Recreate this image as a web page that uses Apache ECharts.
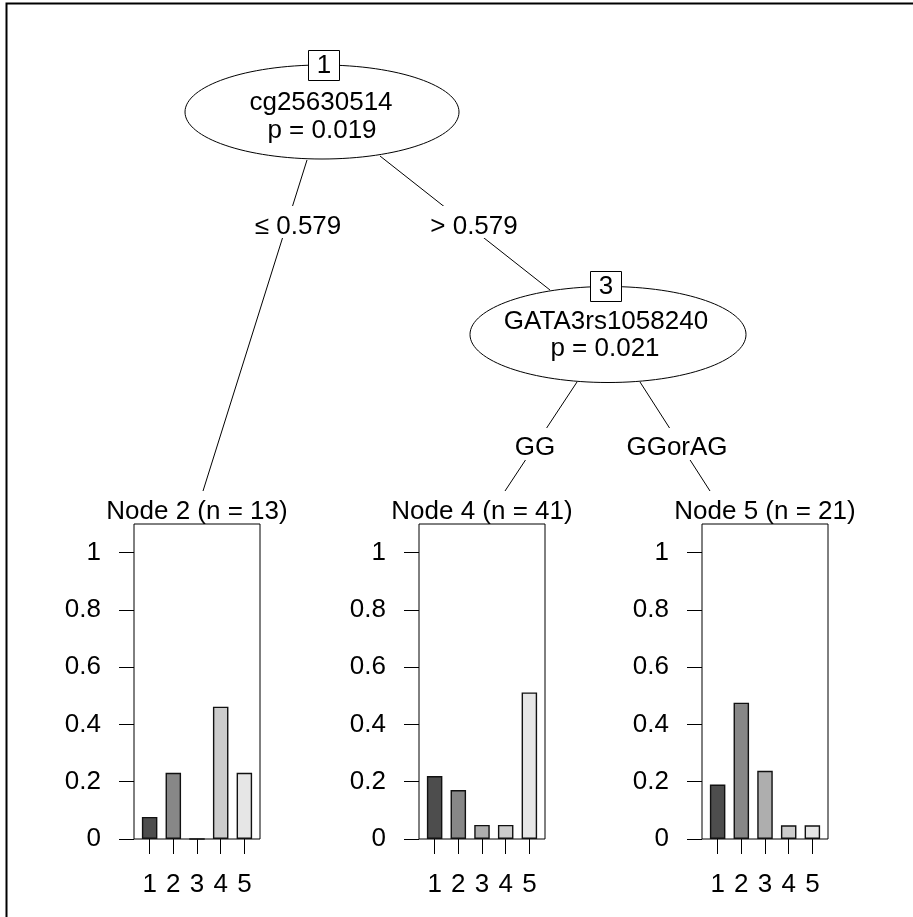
<!DOCTYPE html>
<html>
<head>
<meta charset="utf-8">
<script src="https://cdn.jsdelivr.net/npm/echarts@6/dist/echarts.min.js"></script>
<style>
html,body{margin:0;padding:0;background:#fff;}
#chart{width:913px;height:917px;}
</style>
</head>
<body>
<div id="chart"></div>
<script>
// ---- data ----
var classes = [1, 2, 3, 4, 5];
var yTicks = [0, 0.2, 0.4, 0.6, 0.8, 1];
var node2 = [0.077, 0.231, 0, 0.462, 0.231];
var node4 = [0.220, 0.171, 0.049, 0.049, 0.512];
var node5 = [0.190, 0.476, 0.238, 0.048, 0.048];
var nodeTitles = ['Node 2 (n = 13)', 'Node 4 (n = 41)', 'Node 5 (n = 21)'];
var innerNodes = [
  {id: '1', variable: 'cg25630514', p: 'p = 0.019'},
  {id: '3', variable: 'GATA3rs1058240', p: 'p = 0.021'}
];
var edgeLabels = ['\u2264 0.579', '> 0.579', 'GG', 'GGorAG'];

// ---- styles / layout ----
var FONT = 'Liberation Sans, Arial, sans-serif';
var FS = 26;
var greys = ['#4D4D4D', '#878787', '#AEAEAE', '#CCCCCC', '#E6E6E6'];
var panelLefts = [134, 419, 702];
var panelW = 126, panelTop = 524, panelH = 315;
var nodesData = [node2, node4, node5];

var grids = [], xAxes = [], yAxes = [], series = [];
nodesData.forEach(function (vals, i) {
  grids.push({
    left: panelLefts[i], top: panelTop, width: panelW, height: panelH,
    show: true, borderColor: '#000', borderWidth: 1, backgroundColor: 'transparent',
    containLabel: false
  });
  xAxes.push({
    type: 'value', gridIndex: i, min: 0.34, max: 5.66,
    axisLine: {show: false},
    splitLine: {show: false},
    axisTick: {show: true, length: 15, inside: false, customValues: classes, lineStyle: {color: '#000', width: 1}},
    axisLabel: {show: true, customValues: classes, margin: 33, color: '#000', fontSize: FS, fontFamily: FONT}
  });
  yAxes.push({
    type: 'value', gridIndex: i, min: 0, max: 1.1,
    axisLine: {show: false},
    splitLine: {show: false},
    axisTick: {show: true, length: 15, inside: false, customValues: yTicks, lineStyle: {color: '#000', width: 1}},
    axisLabel: {show: true, customValues: yTicks, margin: 33, color: '#000', fontSize: FS, fontFamily: FONT}
  });
  series.push({
    type: 'bar', xAxisIndex: i, yAxisIndex: i, barWidth: 15.5,
    silent: true, animation: false,
    data: vals.map(function (v, k) {
      return {value: [classes[k], v], itemStyle: {color: greys[k], borderColor: '#111', borderWidth: 1.4}};
    })
  });
});

function txt(x, y, s, z) {
  return {type: 'text', x: x, y: y, z: z || 10, silent: true,
    style: {text: s, fill: '#000', fontSize: FS, fontFamily: FONT,
      align: 'center', verticalAlign: 'middle', textAlign: 'center', textVerticalAlign: 'middle'}};
}
function line(x1, y1, x2, y2) {
  return {type: 'line', z: 1, silent: true, shape: {x1: x1, y1: y1, x2: x2, y2: y2},
    style: {stroke: '#000', lineWidth: 1}};
}
function whiteRect(x, y, w, h) {
  return {type: 'rect', z: 2, silent: true, shape: {x: x, y: y, width: w, height: h},
    style: {fill: '#fff', stroke: null}};
}

var graphics = [
  // outer frame
  {type: 'rect', z: 0, silent: true, shape: {x: 6.5, y: 3.5, width: 1000, height: 1000},
    style: {fill: null, stroke: '#000', lineWidth: 2}},
  // edges
  line(307, 160, 203, 491),
  line(380, 156, 550, 290),
  line(577, 382, 505, 491),
  line(640, 382, 710, 491),
  // label backgrounds
  whiteRect(253, 206, 90, 32),
  whiteRect(430, 206, 90, 32),
  whiteRect(512, 428, 46, 32),
  whiteRect(624, 428, 106, 32),
  // ellipses
  {type: 'ellipse', z: 3, silent: true, shape: {cx: 322, cy: 112, rx: 137, ry: 47},
    style: {fill: '#fff', stroke: '#000', lineWidth: 1}},
  {type: 'ellipse', z: 3, silent: true, shape: {cx: 608, cy: 334.5, rx: 138, ry: 48},
    style: {fill: '#fff', stroke: '#000', lineWidth: 1}},
  // id boxes
  {type: 'rect', z: 4, silent: true, shape: {x: 308.5, y: 50.5, width: 31, height: 30},
    style: {fill: '#fff', stroke: '#000', lineWidth: 1}},
  {type: 'rect', z: 4, silent: true, shape: {x: 590.5, y: 271.5, width: 31, height: 30},
    style: {fill: '#fff', stroke: '#000', lineWidth: 1}},
  txt(324, 66, innerNodes[0].id),
  txt(606, 287, innerNodes[1].id),
  txt(321, 103, innerNodes[0].variable),
  txt(322, 131, innerNodes[0].p),
  txt(606, 322, innerNodes[1].variable),
  txt(605, 349, innerNodes[1].p),
  // edge labels
  txt(298, 227, edgeLabels[0]),
  txt(474, 227, edgeLabels[1]),
  txt(535, 448, edgeLabels[2]),
  txt(677, 448, edgeLabels[3])
];
// terminal node titles
nodeTitles.forEach(function (t, i) {
  graphics.push(txt(panelLefts[i] + panelW / 2, 512, t));
});

var chart = echarts.init(document.getElementById('chart'), null, {renderer: 'canvas'});
chart.setOption({
  animation: false,
  backgroundColor: '#fff',
  grid: grids,
  xAxis: xAxes,
  yAxis: yAxes,
  series: series,
  graphic: {elements: graphics}
});
</script>
</body>
</html>
